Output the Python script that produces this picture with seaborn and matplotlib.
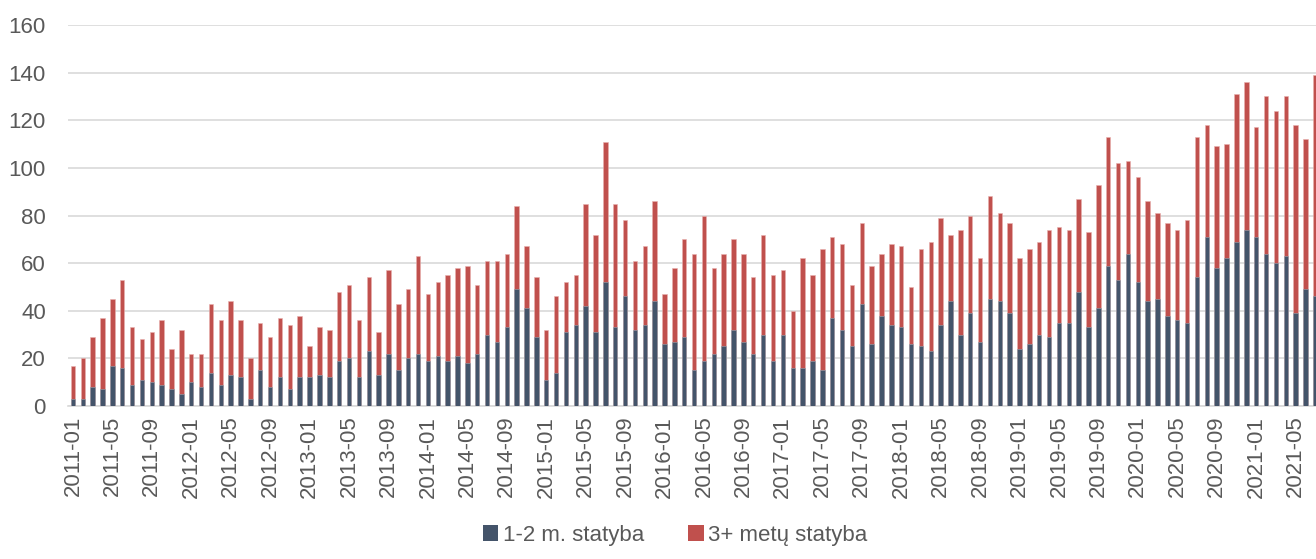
import numpy as np
import pandas as pd
import matplotlib
matplotlib.use("Agg")
import matplotlib.pyplot as plt
import seaborn as sns
from matplotlib.patches import Patch

# Monthly categories 2011-01 .. 2021-07
months = [p.strftime("%Y-%m") for p in pd.period_range("2011-01", "2021-07", freq="M")]

# 1-2 m. statyba (dark blue)
blue = [3, 3, 8, 7, 17, 16, 9, 11, 10, 9, 7, 5,
        10, 8, 14, 9, 13, 12, 3, 15, 8, 12, 7, 12,
        12, 13, 12, 19, 20, 12, 23, 13, 22, 15, 20, 22,
        19, 21, 19, 21, 18, 22, 30, 27, 33, 49, 41, 29,
        11, 14, 31, 34, 42, 31, 52, 33, 46, 32, 34, 44,
        26, 27, 29, 15, 19, 22, 25, 32, 27, 22, 30, 19,
        30, 16, 16, 19, 15, 37, 32, 25, 43, 26, 38, 34,
        33, 26, 25, 23, 34, 44, 30, 39, 27, 45, 44, 39,
        24, 26, 30, 29, 35, 35, 48, 33, 41, 59, 53, 64,
        52, 44, 45, 38, 36, 35, 54, 71, 58, 62, 69, 74,
        71, 64, 60, 63, 39, 49, 46]

# 3+ metų statyba (red)
red = [14, 17, 21, 30, 28, 37, 24, 17, 21, 27, 17, 27,
       12, 14, 29, 27, 31, 24, 17, 20, 21, 25, 27, 26,
       13, 20, 20, 29, 31, 24, 31, 18, 35, 28, 29, 41,
       28, 31, 36, 37, 41, 29, 31, 34, 31, 35, 26, 25,
       21, 32, 21, 21, 43, 41, 59, 52, 32, 29, 33, 42,
       21, 31, 41, 49, 61, 36, 39, 38, 37, 32, 42, 36,
       27, 24, 46, 36, 51, 34, 36, 26, 34, 33, 26, 34,
       34, 24, 41, 46, 45, 28, 44, 41, 35, 43, 37, 38,
       38, 40, 39, 45, 40, 39, 39, 40, 52, 54, 49, 39,
       44, 42, 36, 39, 38, 43, 59, 47, 51, 48, 62, 62,
       46, 66, 64, 67, 79, 63, 93]

series_names = ["1-2 m. statyba", "3+ metų statyba"]
colors = ["#44546A", "#C0504D"]

total = list(np.add(blue, red))
df = pd.DataFrame({"month": months, "blue": blue, "total": total})

sns.set_style("white")
plt.rcParams["font.family"] = ["Liberation Sans", "DejaVu Sans"]
text_color = "#595959"

fig = plt.figure(figsize=(13.16, 5.59), dpi=100)
ax = fig.add_axes([68 / 1316, 1 - 406 / 559, 1 - 68 / 1316, (406 - 25) / 559])

sns.barplot(data=df, x="month", y="total", order=months, color=colors[1],
            width=0.45, saturation=1, ax=ax, edgecolor="#E8B0AE", linewidth=0.4, zorder=3)
sns.barplot(data=df, x="month", y="blue", order=months, color=colors[0],
            width=0.45, saturation=1, ax=ax, edgecolor="#9AA3B0", linewidth=0.4, zorder=4)

ax.set_ylim(0, 160)
ax.set_xlim(-0.5, 126.07)
ax.set_yticks(range(0, 161, 20))
ax.yaxis.grid(True, color="#D9D9D9", linewidth=1.2, zorder=0)
ax.set_axisbelow(True)
for s in ["top", "right", "left"]:
    ax.spines[s].set_visible(False)
ax.spines["bottom"].set_color("#D9D9D9")
ax.spines["bottom"].set_linewidth(1.2)

ticks = list(range(0, len(months), 4))
ax.set_xticks(ticks)
ax.set_xticklabels([months[i] for i in ticks], rotation=90)
ax.tick_params(axis="x", length=0, pad=7, labelsize=16, labelcolor=text_color)
ax.tick_params(axis="y", length=0, pad=16, labelsize=16, labelcolor=text_color)
ax.set_xlabel("")
ax.set_ylabel("")

handles = [Patch(facecolor=c, edgecolor="none") for c in colors]
fig.legend(handles, series_names, loc="lower center", bbox_to_anchor=(0.513, -0.012),
           ncol=2, frameon=False, fontsize=16, labelcolor=text_color,
           handlelength=0.7, handleheight=0.7, handletextpad=0.2, columnspacing=2.0)

fig.savefig("out.png", dpi=100)
